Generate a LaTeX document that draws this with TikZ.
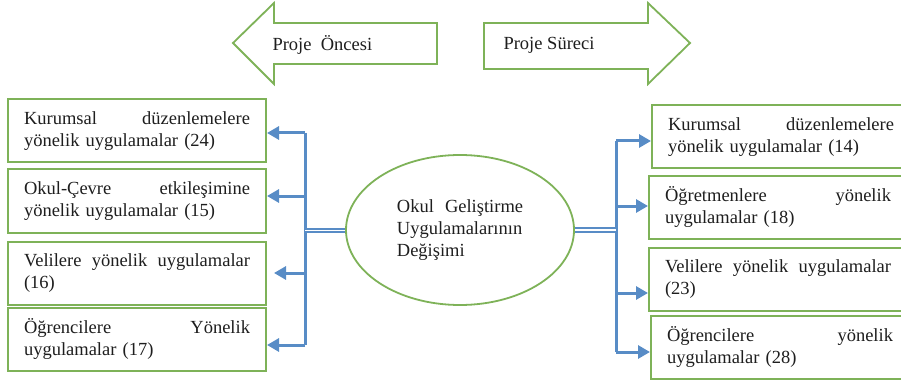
\documentclass[tikz,border=0pt]{standalone}
\usepackage{fontspec}
\setmainfont{Liberation Serif}
\usetikzlibrary{arrows.meta,shapes.geometric}
\definecolor{boxgreen}{RGB}{126,178,88}
\definecolor{linkblue}{RGB}{88,140,198}
\definecolor{ink}{RGB}{30,30,30}
\newlength\boxtw \setlength\boxtw{226pt}
% first line of a box, spread across the full text width
\newcommand\spreadline[1]{\hbox to\boxtw{#1}}

\begin{document}
\begin{tikzpicture}[x=1pt,y=-1pt,
  every node/.style={font=\fontsize{18.5}{22}\selectfont, text=ink},
  itembox/.style={draw=boxgreen, line width=2pt, fill=white,
    text width=\boxtw, align=left, inner xsep=16pt, inner ysep=0pt,
    minimum height=63pt, anchor=west},
  phase/.style={draw=boxgreen, line width=1.8pt, fill=white, line join=miter},
  link/.style={draw=linkblue, line width=3pt,
    -{Triangle[length=12pt,width=13pt]}},
  bus/.style={draw=linkblue, line width=3pt},
  twin/.style={draw=linkblue, line width=2pt, double=white, double distance=1.6pt}]

\useasboundingbox (0,0) rectangle (901,382);

% phase arrows
\draw[phase] (233,43) -- (274,3) -- (274,23) -- (437,23) -- (437,64)
  -- (274,64) -- (274,84) -- cycle;
\node[anchor=west] (before) at (269,45) {Proje\hspace{0.5em}Öncesi};
\draw[phase] (690,43) -- (648,3) -- (648,23) -- (484,23) -- (484,69)
  -- (648,69) -- (648,84) -- cycle;
\node[anchor=west] (during) at (500,45) {Proje Süreci};

% central ellipse
\node[draw=boxgreen, line width=1.8pt, ellipse, minimum width=228pt,
  minimum height=150pt, align=left] (core) at (460,230)
  {Okul\hspace{0.6em}Geliştirme\\Uygulamalarının\\Değişimi};

% left column
\node[itembox] (L1) at (7,131)
  {\spreadline{Kurumsal\hfill düzenlemelere}\\yönelik uygulamalar (24)};
\node[itembox] (L2) at (7,201)
  {\spreadline{Okul-Çevre\hfill etkileşimine}\\yönelik uygulamalar (15)};
\node[itembox] (L3) at (7,273.5)
  {\spreadline{Velilere\hfill yönelik\hfill uygulamalar}\\(16)};
\node[itembox] (L4) at (7,339)
  {\spreadline{Öğrencilere\hfill Yönelik}\\uygulamalar (17)};

% right column
\node[itembox] (R1) at (651,137)
  {\spreadline{Kurumsal\hfill düzenlemelere}\\yönelik uygulamalar (14)};
\node[itembox] (R2) at (648,207.5)
  {\spreadline{Öğretmenlere\hfill yönelik}\\uygulamalar (18)};
\node[itembox] (R3) at (648,279)
  {\spreadline{Velilere\hfill yönelik\hfill uygulamalar}\\(23)};
\node[itembox] (R4) at (650,347.5)
  {\spreadline{Öğrencilere\hfill yönelik}\\uygulamalar (28)};

% left distribution bus
\coordinate (lt) at (305,133);
\coordinate (lb) at (305,345);
\coordinate (lm) at (305,230.5);
\draw[bus] (lt) -- (lb);
\draw[twin] (core.west |- lm) -- (lm);
\draw[link] (lt) -- (L1.east |- lt);
\draw[link] (305,196) -- (L2.east |- 0,196);
\draw[link, shorten >=7pt] (305,273) -- (L3.east |- 0,273);
\draw[link] (lb) -- (L4.east |- lb);

% right distribution bus
\coordinate (rt) at (616,141);
\coordinate (rb) at (616,352);
\coordinate (rm) at (616,230);
\draw[bus] (rt) -- (rb);
\draw[twin] (core.east |- rm) -- (rm);
\draw[link] (rt) -- (R1.west |- rt);
\draw[link] (616,206) -- (R2.west |- 0,206);
\draw[link] (616,293) -- (R3.west |- 0,293);
\draw[link] (rb) -- (R4.west |- rb);
\end{tikzpicture}
\end{document}
